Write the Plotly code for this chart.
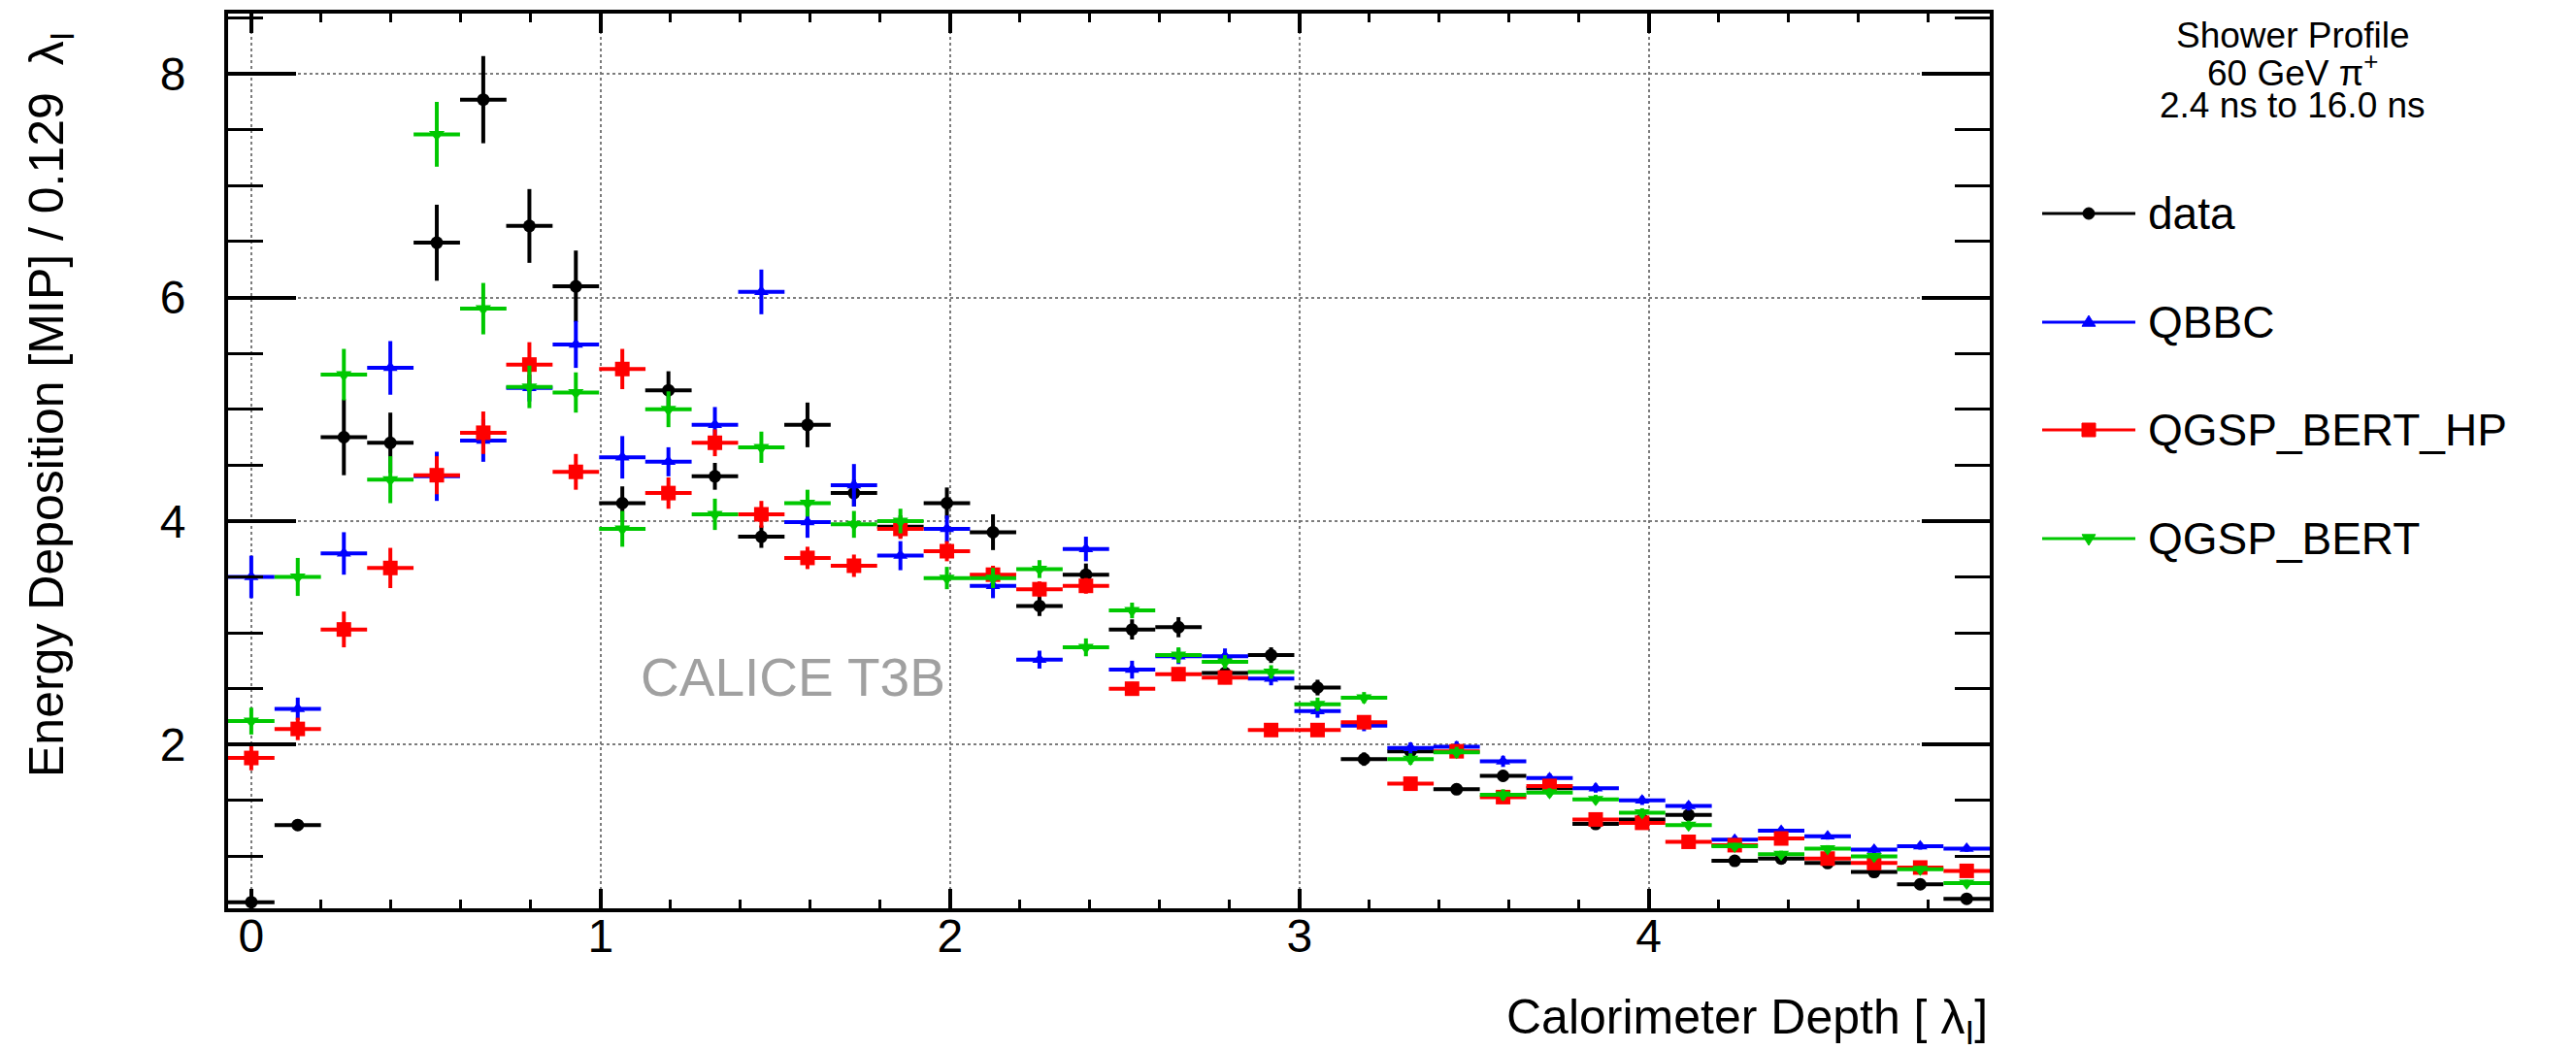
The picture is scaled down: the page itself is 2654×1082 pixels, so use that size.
import plotly.graph_objects as go

# ---------------- data ----------------
depth = [0.0, 0.133, 0.265, 0.398, 0.531, 0.664, 0.796, 0.929, 1.062, 1.194,
         1.327, 1.460, 1.592, 1.725, 1.858, 1.991, 2.123, 2.256, 2.389, 2.521,
         2.654, 2.787, 2.919, 3.052, 3.185, 3.318, 3.450, 3.583, 3.716, 3.848,
         3.981, 4.114, 4.246, 4.379, 4.512, 4.645, 4.777, 4.910]
bin_half_width = 0.0664

data = [0.59, 1.28, 4.75, 4.70, 6.49, 7.77, 6.64, 6.10, 4.16, 5.17,
        4.40, 3.86, 4.86, 4.25, 3.95, 4.16, 3.90, 3.24, 3.52, 3.03,
        3.05, 2.64, 2.80, 2.51, 1.87, 1.94, 1.60, 1.72, 1.61, 1.29,
        1.33, 1.37, 0.96, 0.98, 0.94, 0.86, 0.75, 0.62]
data_err = [0.04, 0.05, 0.34, 0.27, 0.34, 0.39, 0.33, 0.32, 0.15, 0.17,
            0.12, 0.10, 0.20, 0.12, 0.10, 0.14, 0.16, 0.09, 0.10, 0.09,
            0.09, 0.07, 0.07, 0.07, 0.06, 0.06, 0.05, 0.05, 0.05, 0.05,
            0.04, 0.04, 0.04, 0.04, 0.04, 0.04, 0.04, 0.04]

qbbc = [3.50, 2.32, 3.71, 5.37, 4.40, 4.72, 5.19, 5.58, 4.57, 4.53,
        4.86, 6.05, 3.99, 4.32, 3.69, 3.93, 3.42, 2.76, 3.75, 2.67,
        2.79, 2.79, 2.59, 2.30, 2.17, 1.97, 1.98, 1.85, 1.70, 1.61,
        1.50, 1.45, 1.15, 1.23, 1.18, 1.06, 1.09, 1.07]
qbbc_err = [0.19, 0.10, 0.19, 0.24, 0.22, 0.19, 0.12, 0.21, 0.19, 0.13,
            0.16, 0.20, 0.14, 0.19, 0.13, 0.12, 0.11, 0.08, 0.11, 0.08,
            0.07, 0.07, 0.06, 0.06, 0.05, 0.05, 0.05, 0.05, 0.04, 0.04,
            0.04, 0.04, 0.03, 0.03, 0.03, 0.03, 0.03, 0.03]

qgsp_bert_hp = [1.88, 2.14, 3.03, 3.58, 4.41, 4.79, 5.40, 4.44, 5.36, 4.25,
                4.70, 4.06, 3.67, 3.60, 3.93, 3.73, 3.52, 3.39, 3.42, 2.50,
                2.63, 2.60, 2.13, 2.13, 2.20, 1.65, 1.94, 1.53, 1.63, 1.33,
                1.30, 1.13, 1.10, 1.16, 0.98, 0.94, 0.90, 0.87]
qgsp_bert_hp_err = [0.11, 0.10, 0.16, 0.18, 0.17, 0.19, 0.20, 0.16, 0.18, 0.14,
                    0.12, 0.12, 0.10, 0.10, 0.09, 0.09, 0.08, 0.07, 0.07, 0.06,
                    0.06, 0.06, 0.05, 0.05, 0.05, 0.05, 0.04, 0.04, 0.04, 0.04,
                    0.04, 0.03, 0.03, 0.03, 0.03, 0.03, 0.03, 0.03]

qgsp_bert = [2.21, 3.50, 5.31, 4.37, 7.46, 5.90, 5.20, 5.15, 3.93, 5.00,
             4.06, 4.66, 4.16, 3.97, 4.00, 3.49, 3.49, 3.57, 2.87, 3.20,
             2.80, 2.74, 2.65, 2.36, 2.42, 1.87, 1.93, 1.55, 1.57, 1.51,
             1.39, 1.28, 1.09, 1.02, 1.07, 1.00, 0.885, 0.76]
qgsp_bert_err = [0.12, 0.17, 0.23, 0.21, 0.29, 0.23, 0.19, 0.18, 0.16, 0.16,
                 0.14, 0.14, 0.12, 0.12, 0.11, 0.10, 0.09, 0.08, 0.08, 0.07,
                 0.07, 0.06, 0.06, 0.06, 0.05, 0.05, 0.05, 0.05, 0.04, 0.04,
                 0.04, 0.04, 0.03, 0.03, 0.03, 0.03, 0.03, 0.03]

series_names = ["data", "QBBC", "QGSP_BERT_HP", "QGSP_BERT"]
series_values = [data, qbbc, qgsp_bert_hp, qgsp_bert]
series_errors = [data_err, qbbc_err, qgsp_bert_hp_err, qgsp_bert_err]
series_colors = ["#000000", "#0000ff", "#ff0000", "#00c800"]
series_symbols = ["circle", "triangle-up", "square", "triangle-down"]
series_sizes = [13, 13, 15, 14]

x_range = [-0.0664, 4.976]
y_range = [0.535, 8.54]

# ---------------- figure ----------------
W, H = 2654, 1082
FONT = "Liberation Sans, Arial, Helvetica, sans-serif"

fig = go.Figure()

for name, vals, errs, col, sym, sz in zip(series_names, series_values, series_errors,
                                          series_colors, series_symbols, series_sizes):
    fig.add_trace(go.Scatter(
        x=depth, y=vals, mode="markers", name=name, showlegend=False,
        marker=dict(symbol=sym, size=sz, color=col, line=dict(width=0)),
        error_x=dict(type="constant", value=bin_half_width, color=col,
                     thickness=4, width=0),
        error_y=dict(type="data", array=errs, color=col, thickness=4, width=0),
    ))

# plot frame in pixels
L, R, T, B = 235, 2050, 14, 936

fig.update_layout(
    width=W, height=H,
    margin=dict(l=0, r=0, t=0, b=0),
    paper_bgcolor="white", plot_bgcolor="white",
    font=dict(family=FONT, color="black"),
    showlegend=False,
    xaxis=dict(
        domain=[L / W, R / W], range=x_range,
        showline=True, linecolor="black", linewidth=4, mirror="allticks",
        ticks="inside", ticklen=20, tickwidth=4, tickcolor="black",
        tick0=0, dtick=1,
        minor=dict(ticks="inside", ticklen=9, tickwidth=3, tickcolor="black",
                   dtick=0.2, tick0=0, showgrid=False),
        showgrid=True, gridcolor="rgba(110,110,110,0.9)", griddash="dot", gridwidth=2,
        zeroline=False,
        tickfont=dict(size=48, family=FONT, color="black"),
        ticklabelstandoff=-17,
    ),
    yaxis=dict(
        domain=[1 - B / H, 1 - T / H], range=y_range,
        showline=True, linecolor="black", linewidth=4, mirror="allticks",
        ticks="inside", ticklen=70, tickwidth=4, tickcolor="black",
        tick0=0, dtick=2,
        minor=dict(ticks="inside", ticklen=36, tickwidth=3, tickcolor="black",
                   dtick=0.5, tick0=0, showgrid=False),
        showgrid=True, gridcolor="rgba(110,110,110,0.9)", griddash="dot", gridwidth=2,
        zeroline=False,
        tickfont=dict(size=48, family=FONT, color="black"),
        ticklabelstandoff=30,
    ),
)

annotations = []
# axis titles
annotations.append(dict(
    text="Energy Deposition [MIP] / 0.129  λ<sub>I</sub>",
    x=51 / W, y=1 - 417 / H, xref="paper", yref="paper",
    xanchor="center", yanchor="middle", textangle=-90, showarrow=False,
    font=dict(size=50, family=FONT, color="black")))
annotations.append(dict(
    text="Calorimeter Depth [ λ<sub>I</sub>]",
    x=R / W, y=1 - 1051 / H, xref="paper", yref="paper",
    xanchor="right", yanchor="middle", showarrow=False,
    font=dict(size=50, family=FONT, color="black")))
# watermark
annotations.append(dict(
    text="CALICE T3B", x=1.11, y=2.6, xref="x", yref="y",
    xanchor="left", yanchor="middle", showarrow=False,
    font=dict(size=55, family=FONT, color="#a0a0a0")))
# legend header
header_lines = ["Shower Profile", "60 GeV π<sup>+</sup>", "2.4 ns to 16.0 ns"]
header_y = [37, 73, 108]
for txt, py in zip(header_lines, header_y):
    annotations.append(dict(
        text=txt, x=2362 / W, y=1 - py / H, xref="paper", yref="paper",
        xanchor="center", yanchor="middle", showarrow=False,
        font=dict(size=37, family=FONT, color="black")))


def px(xp):
    return xp / W


def py_(yp):
    return 1 - yp / H


# hand-drawn legend (line sample with marker in the middle, ROOT style)
legend_y = [220, 332, 443, 555]
shapes = []
mx = 2152
for name, col, sym, py in zip(series_names, series_colors, series_symbols, legend_y):
    shapes.append(dict(type="line", xref="paper", yref="paper",
                       x0=px(2104), x1=px(2200), y0=py_(py), y1=py_(py),
                       line=dict(color=col, width=3)))
    if sym == "circle":
        r = 6
        shapes.append(dict(type="circle", xref="paper", yref="paper",
                           x0=px(mx - r), x1=px(mx + r), y0=py_(py + r), y1=py_(py - r),
                           fillcolor=col, line=dict(color=col, width=1)))
    elif sym == "square":
        r = 7
        shapes.append(dict(type="rect", xref="paper", yref="paper",
                           x0=px(mx - r), x1=px(mx + r), y0=py_(py + r), y1=py_(py - r),
                           fillcolor=col, line=dict(color=col, width=1)))
    elif sym == "triangle-up":
        r = 7
        path = "M {:.6f},{:.6f} L {:.6f},{:.6f} L {:.6f},{:.6f} Z".format(
            px(mx - r), py_(py + r * 0.6), px(mx + r), py_(py + r * 0.6), px(mx), py_(py - r))
        shapes.append(dict(type="path", xref="paper", yref="paper", path=path,
                           fillcolor=col, line=dict(color=col, width=1)))
    else:
        r = 7
        path = "M {:.6f},{:.6f} L {:.6f},{:.6f} L {:.6f},{:.6f} Z".format(
            px(mx - r), py_(py - r * 0.6), px(mx + r), py_(py - r * 0.6), px(mx), py_(py + r))
        shapes.append(dict(type="path", xref="paper", yref="paper", path=path,
                           fillcolor=col, line=dict(color=col, width=1)))
    annotations.append(dict(
        text=name, x=px(2211), y=py_(py), xref="paper", yref="paper",
        xanchor="left", yanchor="middle", showarrow=False,
        font=dict(size=46, family=FONT, color="black")))

fig.update_layout(annotations=annotations, shapes=shapes)

fig.write_html("out.html", config={"displayModeBar": False},
               post_script="document.body.style.margin='0';document.body.style.overflow='hidden';")
